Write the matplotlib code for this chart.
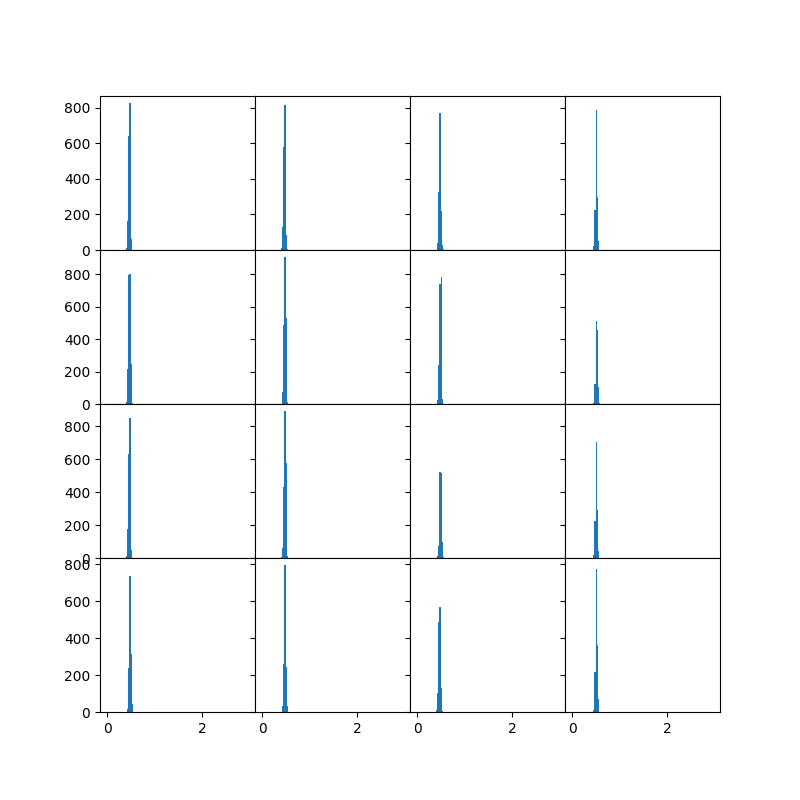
import matplotlib
matplotlib.use('Agg')
import matplotlib.pyplot as plt
import numpy as np

# histogram bins shared by all panels
edges = np.linspace(0, 2.96, 121)
centers = (edges[:-1] + edges[1:]) / 2

# nonzero bin counts per panel (row by row) and index of the first nonzero bin
counts = [
    [13, 162, 639, 825, 61],
    [10, 128, 577, 815, 84, 5],
    [41, 326, 773, 218, 28, 8],
    [22, 223, 788, 298, 52],
    [14, 217, 795, 805, 246, 5],
    [76, 486, 906, 529, 12],
    [25, 240, 742, 783, 30],
    [5, 125, 510, 455, 105, 8],
    [15, 175, 630, 848, 50],
    [8, 60, 430, 891, 575, 15],
    [10, 70, 521, 515, 100, 8],
    [20, 224, 703, 290, 40],
    [18, 240, 738, 312, 45],
    [30, 262, 795, 245, 35],
    [10, 105, 486, 568, 130, 8],
    [12, 218, 773, 365, 70],
]
first_bin = [16, 16, 17, 18,
             16, 17, 17, 18,
             16, 16, 17, 18,
             17, 17, 16, 18]

fig, axes = plt.subplots(4, 4, figsize=(8, 8), dpi=100, sharex=True, sharey='row')
plt.subplots_adjust(wspace=0, hspace=0)

for i, ax in enumerate(axes.flat):
    w = np.zeros(len(centers))
    c = counts[i]
    w[first_bin[i]:first_bin[i] + len(c)] = c
    ax.hist(centers, bins=edges, weights=w)

fig.savefig('out.png')
